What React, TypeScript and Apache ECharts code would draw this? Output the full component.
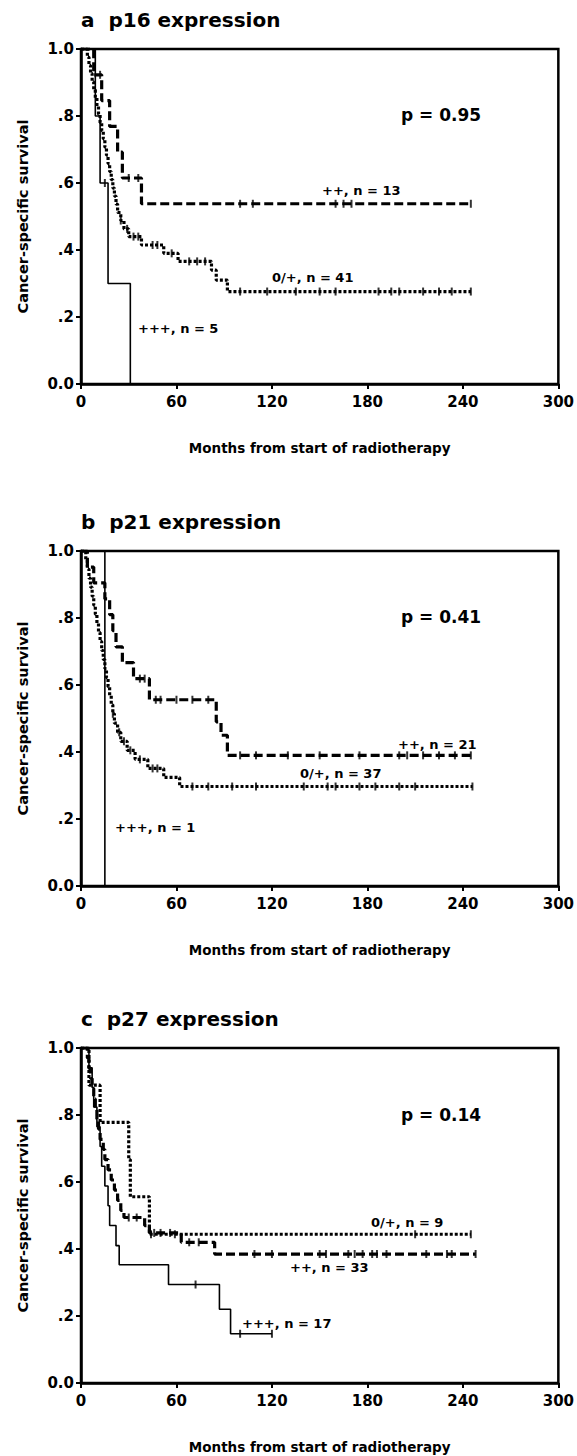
import React, { useEffect, useRef } from "react";
import * as echarts from "echarts";

// ---------- data ----------
const titles = ["a  p16 expression", "b  p21 expression", "c  p27 expression"];
const pValues = ["p = 0.95", "p = 0.41", "p = 0.14"];
const xTicks = [0, 60, 120, 180, 240, 300];
const yTickLabels = ["0.0", ".2", ".4", ".6", ".8", "1.0"];

// Panel a (p16)
const aSolidSteps: [number, number][] = [[0, 1], [9, 0.8], [12, 0.6], [17, 0.3], [31, 0]];
const aSolidCensor = [15];
const aDashSteps: [number, number][] = [[0, 1], [8, 0.923], [13, 0.846], [18, 0.769], [23, 0.692], [26, 0.615], [38, 0.538], [245, 0.538]];
const aDashCensor = [12, 30, 36, 100, 108, 160, 165, 170, 245];
const aDotSteps: [number, number][] = [[0, 1], [4, 0.976], [5, 0.951], [6, 0.927], [7, 0.902], [8, 0.878], [9, 0.854], [10, 0.829], [11, 0.805], [12, 0.78], [13, 0.756], [14, 0.732], [15, 0.707], [16, 0.683], [17, 0.658], [18, 0.634], [19, 0.61], [20, 0.585], [21, 0.561], [22, 0.537], [23, 0.512], [25, 0.488], [27, 0.463], [30, 0.44], [38, 0.415], [52, 0.39], [61, 0.366], [82, 0.34], [85, 0.31], [92, 0.276], [245, 0.276]];
const aDotCensor = [25, 29, 33, 36, 45, 48, 57, 68, 73, 78, 100, 117, 135, 150, 160, 187, 195, 200, 215, 225, 233, 245];

// Panel b (p21)
const bSolidSteps: [number, number][] = [[0, 1], [15, 0]];
const bSolidCensor: number[] = [];
const bDashSteps: [number, number][] = [[0, 1], [4, 0.952], [8, 0.905], [15, 0.857], [18, 0.81], [20, 0.762], [22, 0.714], [26, 0.667], [33, 0.619], [43, 0.556], [85, 0.49], [88, 0.45], [92, 0.39], [245, 0.39]];
const bDashCensor = [37, 40, 47, 50, 60, 70, 80, 100, 110, 130, 150, 175, 200, 205, 215, 225, 235, 245];
const bDotSteps: [number, number][] = [[0, 1], [3, 0.973], [4, 0.946], [5, 0.919], [6, 0.892], [7, 0.865], [8, 0.838], [9, 0.811], [10, 0.784], [11, 0.757], [12, 0.73], [13, 0.703], [14, 0.676], [15, 0.649], [16, 0.622], [17, 0.595], [18, 0.568], [19, 0.541], [20, 0.514], [21, 0.486], [23, 0.459], [25, 0.432], [29, 0.405], [34, 0.378], [42, 0.351], [52, 0.324], [62, 0.297], [246, 0.297]];
const bDotCensor = [20, 24, 27, 31, 37, 45, 48, 70, 80, 95, 110, 140, 155, 160, 175, 185, 200, 210, 246];

// Panel c (p27)
const cSolidSteps: [number, number][] = [[0, 1], [5, 0.941], [7, 0.882], [8, 0.824], [10, 0.765], [12, 0.706], [13, 0.647], [15, 0.588], [17, 0.529], [18, 0.47], [22, 0.41], [24, 0.353], [55, 0.294], [87, 0.22], [94, 0.147], [120, 0.147]];
const cSolidCensor = [72, 100, 120];
const cDashSteps: [number, number][] = [[0, 1], [4, 0.97], [5, 0.939], [6, 0.909], [7, 0.879], [8, 0.848], [9, 0.818], [10, 0.788], [11, 0.758], [12, 0.727], [14, 0.697], [15, 0.667], [17, 0.636], [19, 0.606], [21, 0.576], [23, 0.545], [25, 0.515], [27, 0.494], [40, 0.47], [43, 0.448], [63, 0.42], [84, 0.385], [248, 0.385]];
const cDashCensor = [30, 35, 46, 50, 56, 68, 74, 109, 120, 150, 154, 168, 172, 177, 183, 186, 192, 217, 230, 233, 248];
const cDotSteps: [number, number][] = [[0, 1], [5, 0.889], [12, 0.778], [30, 0.667], [31, 0.556], [43, 0.444], [245, 0.444]];
const cDotCensor = [44, 59, 210, 245];

const groupLabels = [
  [
    { text: "++, n = 13", x: 322, y: 190 },
    { text: "0/+, n = 41", x: 272, y: 277 },
    { text: "+++, n = 5", x: 138, y: 328 },
  ],
  [
    { text: "++, n = 21", x: 398, y: 744 },
    { text: "0/+, n = 37", x: 300, y: 773 },
    { text: "+++, n = 1", x: 115, y: 827 },
  ],
  [
    { text: "0/+, n = 9", x: 371, y: 1222 },
    { text: "++, n = 33", x: 290, y: 1267 },
    { text: "+++, n = 17", x: 242, y: 1323 },
  ],
];

const panels = [
  { solid: aSolidSteps, solidC: aSolidCensor, dash: aDashSteps, dashC: aDashCensor, dot: aDotSteps, dotC: aDotCensor },
  { solid: bSolidSteps, solidC: bSolidCensor, dash: bDashSteps, dashC: bDashCensor, dot: bDotSteps, dotC: bDotCensor },
  { solid: cSolidSteps, solidC: cSolidCensor, dash: cDashSteps, dashC: cDashCensor, dot: cDotSteps, dotC: cDotCensor },
];

// ---------- layout ----------
const GRID_LEFT = 81;
const GRID_W = 480;
const GRID_H = 335;
const GRID_TOPS = [49, 551, 1048];
const FONT = '"DejaVu Sans", "Liberation Sans", sans-serif';

function valueAt(steps: [number, number][], t: number): number {
  let v = steps[0][1];
  for (const [x, y] of steps) {
    if (x <= t) v = y;
  }
  return v;
}

function buildOption() {
  const grid: any[] = [];
  const xAxis: any[] = [];
  const yAxis: any[] = [];
  const series: any[] = [];
  const title: any[] = [];
  const graphic: any[] = [];

  panels.forEach((p, i) => {
    const top = GRID_TOPS[i];
    grid.push({
      left: GRID_LEFT,
      top,
      width: GRID_W,
      height: GRID_H,
      show: true,
      borderColor: "#000",
      borderWidth: 2.5,
      backgroundColor: "transparent",
    });
    xAxis.push({
      type: "value",
      gridIndex: i,
      min: 0,
      max: 300,
      interval: 60,
      name: "Months from start of radiotherapy",
      nameLocation: "middle",
      nameGap: 57,
      nameTextStyle: { fontFamily: FONT, fontWeight: "bold", fontSize: 13.5, color: "#000" },
      axisLine: { show: true, lineStyle: { color: "#000", width: 2.5 } },
      axisTick: { show: true, inside: false, length: 5, lineStyle: { color: "#000", width: 2 } },
      axisLabel: {
        show: true,
        margin: 10,
        fontFamily: FONT,
        fontWeight: "bold",
        fontSize: 15,
        color: "#000",
        formatter: (v: number) => (xTicks.includes(v) ? String(v) : ""),
      },
      splitLine: { show: false },
    });
    yAxis.push({
      type: "value",
      gridIndex: i,
      min: 0,
      max: 1,
      interval: 0.2,
      name: "Cancer-specific survival",
      nameLocation: "middle",
      nameRotate: 90,
      nameGap: 51,
      nameTextStyle: { fontFamily: FONT, fontWeight: "bold", fontSize: 14.5, color: "#000" },
      axisLine: { show: true, lineStyle: { color: "#000", width: 2.5 } },
      axisTick: { show: true, inside: false, length: 5, lineStyle: { color: "#000", width: 2 } },
      axisLabel: {
        show: true,
        margin: 7,
        fontFamily: FONT,
        fontWeight: "bold",
        fontSize: 15,
        color: "#000",
        formatter: (v: number) => yTickLabels[Math.round(v * 5)] ?? "",
      },
      splitLine: { show: false },
    });
    title.push({
      text: titles[i],
      left: GRID_LEFT - 5,
      top: top - 44,
      textStyle: { fontFamily: FONT, fontWeight: "bold", fontSize: 20, color: "#000" },
    });

    const curves: [string, [number, number][], number[], any][] = [
      ["solid", p.solid, p.solidC, { type: "solid", width: 1.6 }],
      ["dash", p.dash, p.dashC, { type: [9, 4], width: 3.2 }],
      ["dot", p.dot, p.dotC, { type: [3, 2], width: 3.2 }],
    ];
    curves.forEach(([name, steps, cens, ls]) => {
      series.push({
        type: "line",
        name: name + i,
        xAxisIndex: i,
        yAxisIndex: i,
        step: "end",
        showSymbol: false,
        symbol: "none",
        data: steps,
        lineStyle: { color: "#000", ...ls },
        silent: true,
      });
      if (cens.length) {
        series.push({
          type: "scatter",
          name: name + "c" + i,
          xAxisIndex: i,
          yAxisIndex: i,
          symbol: "rect",
          symbolSize: [2, 8],
          itemStyle: { color: "#000" },
          data: cens.map((t) => [t, valueAt(steps, t)]),
          silent: true,
        });
      }
    });

    graphic.push({
      type: "text",
      x: 441,
      y: top + [66, 66, 67][i],
      style: { text: pValues[i], fontFamily: FONT, fontWeight: "bold", fontSize: 17, fill: "#000", align: "center", verticalAlign: "middle" },
    });
    groupLabels[i].forEach((g) => {
      graphic.push({
        type: "text",
        x: g.x,
        y: g.y,
        style: { text: g.text, fontFamily: FONT, fontWeight: "bold", fontSize: 13, fill: "#000", align: "left", verticalAlign: "middle" },
      });
    });
  });

  return {
    animation: false,
    backgroundColor: "#fff",
    title,
    grid,
    xAxis,
    yAxis,
    series,
    graphic,
  };
}

export default function App() {
  const ref = useRef<HTMLDivElement>(null);
  useEffect(() => {
    if (!ref.current) return;
    const chart = echarts.init(ref.current, undefined, { renderer: "svg" });
    chart.setOption(buildOption() as any);
    return () => chart.dispose();
  }, []);
  return (
    <div
      ref={ref}
      style={{ position: "absolute", left: 0, top: 0, width: 577, height: 1456, background: "#fff" }}
    />
  );
}
